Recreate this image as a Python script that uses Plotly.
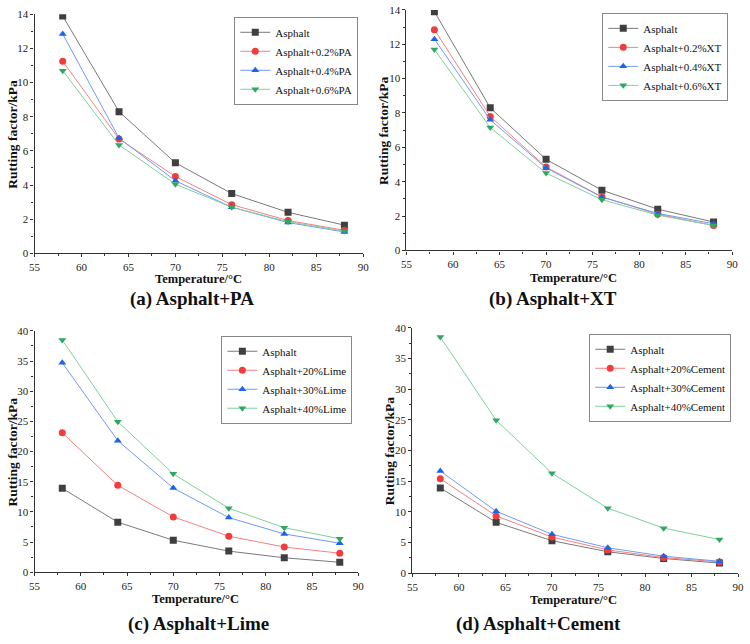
import plotly.graph_objects as go

temps = [58, 64, 70, 76, 82, 88]
asphalt = [13.9, 8.3, 5.3, 3.5, 2.4, 1.65]

pa_names = ["Asphalt", "Asphalt+0.2%PA", "Asphalt+0.4%PA", "Asphalt+0.6%PA"]
pa_02 = [11.25, 6.7, 4.5, 2.85, 1.92, 1.35]
pa_04 = [12.85, 6.75, 4.25, 2.7, 1.8, 1.25]
pa_06 = [10.7, 6.35, 4.05, 2.7, 1.85, 1.3]

xt_names = ["Asphalt", "Asphalt+0.2%XT", "Asphalt+0.4%XT", "Asphalt+0.6%XT"]
xt_02 = [12.85, 7.8, 4.85, 3.12, 2.1, 1.45]
xt_04 = [12.3, 7.6, 4.8, 3.1, 2.15, 1.55]
xt_06 = [11.7, 7.15, 4.5, 2.95, 2.05, 1.45]

lime_names = ["Asphalt", "Asphalt+20%Lime", "Asphalt+30%Lime", "Asphalt+40%Lime"]
lime_20 = [23.1, 14.4, 9.17, 5.97, 4.18, 3.15]
lime_30 = [34.7, 21.8, 13.95, 9.06, 6.35, 4.8]
lime_40 = [38.5, 24.95, 16.3, 10.6, 7.38, 5.55]

cem_names = ["Asphalt", "Asphalt+20%Cement", "Asphalt+30%Cement", "Asphalt+40%Cement"]
cem_20 = [15.4, 9.35, 5.9, 3.8, 2.55, 1.85]
cem_30 = [16.65, 10.1, 6.35, 4.15, 2.78, 1.95]
cem_40 = [38.5, 24.95, 16.3, 10.6, 7.35, 5.5]

captions = ["(a) Asphalt+PA", "(b) Asphalt+XT", "(c) Asphalt+Lime", "(d) Asphalt+Cement"]

W, H = 750, 644
FONT = "Liberation Serif"

styles = [
    dict(symbol="square", mcolor="#3f3f3f", lcolor="#7a7a7a"),
    dict(symbol="circle", mcolor="#f23c3c", lcolor="#f58080"),
    dict(symbol="triangle-up", mcolor="#1f63e6", lcolor="#6f9bf0"),
    dict(symbol="triangle-down", mcolor="#2fa862", lcolor="#7fcf9d"),
]

# panel geometry in pixels: (x0, x1, ybottom, ytop)
panels = [
    dict(px=(29, 363, 252, 8.5), yr=14, dt=2, names=pa_names, data=[asphalt, pa_02, pa_04, pa_06],
         leg=(358, 11), xt=(196, 278), yt=7, cap=(189, 299)),
    dict(px=(407, 738, 249, 4), yr=14, dt=2, names=xt_names, data=[asphalt, xt_02, xt_04, xt_06],
         leg=(734, 7), xt=(577, 277), yt=383, cap=(556, 299)),
    dict(px=(29, 358, 577, 331), yr=40, dt=5, names=lime_names, data=[asphalt, lime_20, lime_30, lime_40],
         leg=(352, 336), xt=(193, 604), yt=7, cap=(196, 630)),
    dict(px=(413, 744, 578, 328), yr=40, dt=5, names=cem_names, data=[asphalt, cem_20, cem_30, cem_40],
         leg=(737, 334), xt=(577, 605), yt=390, cap=(541, 630)),
]

fig = go.Figure()
annotations = []
for i, p in enumerate(panels):
    n = "" if i == 0 else str(i + 1)
    xa, ya = "x" + n, "y" + n
    lg = "legend" + n
    for j, (name, vals) in enumerate(zip(p["names"], p["data"])):
        s = styles[j]
        fig.add_trace(go.Scatter(
            x=temps, y=vals, name=name, mode="lines+markers",
            line=dict(color=s["lcolor"], width=1),
            marker=dict(symbol=s["symbol"], color=s["mcolor"], size=7),
            xaxis=xa, yaxis=ya, legend=lg, showlegend=True))
    x0, x1, yb, yt = p["px"]
    axis_common = dict(showline=True, linecolor="#333", linewidth=1.3, ticks="outside",
                       ticklen=3, tickcolor="#333", showgrid=False, zeroline=False,
                       tickfont=dict(family=FONT, size=11, color="#222"),
                       minor=dict(ticks="outside", ticklen=2, tickcolor="#333"))
    fig.layout["xaxis" + n] = dict(domain=[x0 / W, x1 / W], range=[55, 90], dtick=5,
                                   anchor=ya, minor_dtick=2.5, **axis_common)
    fig.layout["yaxis" + n] = dict(domain=[1 - yb / H, 1 - yt / H], range=[0, p["yr"]], dtick=p["dt"],
                                   anchor=xa, minor_dtick=p["dt"] / 2, **axis_common)
    lx, ly = p["leg"]
    fig.layout[lg] = dict(x=lx / W, y=1 - ly / H, xanchor="right", yanchor="top",
                          xref="paper", yref="paper",
                          bgcolor="rgba(255,255,255,0.9)", bordercolor="#888", borderwidth=1,
                          font=dict(family=FONT, size=11, color="#111"),
                          itemwidth=30, tracegroupgap=0)
    annotations.append(dict(text="<b>Temperature/°C</b>", x=p["xt"][0] / W, y=1 - p["xt"][1] / H,
                            xref="paper", yref="paper", showarrow=False,
                            xanchor="center", yanchor="middle",
                            font=dict(family=FONT, size=12.5, color="#111")))
    annotations.append(dict(text="<b>Rutting factor/kPa</b>", x=p["yt"] / W,
                            y=1 - ((yb + yt) / 2) / H, xref="paper", yref="paper",
                            showarrow=False, textangle=-90, xanchor="center", yanchor="middle",
                            font=dict(family=FONT, size=13.5, color="#111")))
    annotations.append(dict(text="<b>" + captions[i] + "</b>", x=p["cap"][0] / W,
                            y=1 - p["cap"][1] / H, xref="paper", yref="paper",
                            showarrow=False, xanchor="center", yanchor="middle",
                            font=dict(family=FONT, size=19, color="#111")))

fig.update_layout(width=W, height=H, margin=dict(l=0, r=0, t=0, b=0),
                  paper_bgcolor="white", plot_bgcolor="white",
                  annotations=annotations, showlegend=True)

fig.write_html("out.html")
